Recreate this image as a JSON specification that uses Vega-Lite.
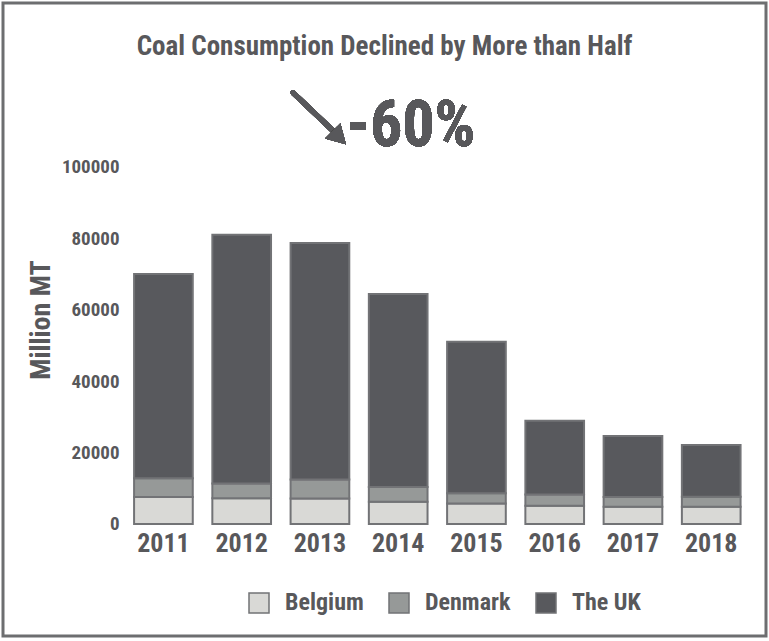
{
  "$schema": "https://vega.github.io/schema/vega-lite/v6.json",
  "width": 763,
  "height": 633,
  "autosize": "none",
  "padding": {"left": 3, "top": 3, "right": 3, "bottom": 5},
  "background": "white",
  "title": {
    "text": "Coal Consumption Declined by More than Half",
    "anchor": "middle",
    "orient": "top",
    "offset": -58,
    "font": "Roboto Condensed, Roboto",
    "fontSize": 27,
    "fontWeight": "bold",
    "color": "#58585b"
  },
  "data": {
    "values": [
      {"year": "2011", "country": "Belgium", "value": 7500},
      {"year": "2011", "country": "Denmark", "value": 5300},
      {"year": "2011", "country": "The UK", "value": 57200},
      {"year": "2012", "country": "Belgium", "value": 7200},
      {"year": "2012", "country": "Denmark", "value": 4100},
      {"year": "2012", "country": "The UK", "value": 69700},
      {"year": "2013", "country": "Belgium", "value": 7100},
      {"year": "2013", "country": "Denmark", "value": 5300},
      {"year": "2013", "country": "The UK", "value": 66300},
      {"year": "2014", "country": "Belgium", "value": 6200},
      {"year": "2014", "country": "Denmark", "value": 4100},
      {"year": "2014", "country": "The UK", "value": 54100},
      {"year": "2015", "country": "Belgium", "value": 5700},
      {"year": "2015", "country": "Denmark", "value": 2900},
      {"year": "2015", "country": "The UK", "value": 42400},
      {"year": "2016", "country": "Belgium", "value": 5100},
      {"year": "2016", "country": "Denmark", "value": 3100},
      {"year": "2016", "country": "The UK", "value": 20700},
      {"year": "2017", "country": "Belgium", "value": 4800},
      {"year": "2017", "country": "Denmark", "value": 2700},
      {"year": "2017", "country": "The UK", "value": 17100},
      {"year": "2018", "country": "Belgium", "value": 4800},
      {"year": "2018", "country": "Denmark", "value": 2800},
      {"year": "2018", "country": "The UK", "value": 14500}
    ]
  },
  "layer": [
    {
      "mark": {"type": "bar", "stroke": "#727376", "strokeWidth": 2},
      "encoding": {
        "x": {
          "field": "year",
          "type": "ordinal",
          "scale": {"paddingInner": 0.25, "paddingOuter": 1.028, "align": 0.8375},
          "axis": {
            "orient": "bottom",
            "offset": -112,
            "title": null,
            "labelAngle": 0,
            "labelFontSize": 26,
            "labelPadding": 6,
            "domain": false,
            "ticks": false
          }
        },
        "y": {
          "field": "value",
          "type": "quantitative",
          "stack": "zero",
          "scale": {"domain": [-31400, 145900], "nice": false, "zero": false},
          "axis": {
            "values": [0, 20000, 40000, 60000, 80000, 100000],
            "format": "d",
            "grid": false,
            "domain": false,
            "ticks": false,
            "offset": -116,
            "labelPadding": 0,
            "labelFontSize": 19,
            "title": "Million MT",
            "titleFontSize": 28,
            "titlePadding": 6
          }
        },
        "order": {"field": "country", "sort": "ascending"},
        "color": {
          "field": "country",
          "type": "nominal",
          "scale": {"domain": ["Belgium", "Denmark", "The UK"], "range": ["#d9d9d6", "#969998", "#58595d"]},
          "legend": {
            "orient": "none",
            "legendX": 244,
            "legendY": 588,
            "direction": "horizontal",
            "title": null,
            "symbolType": "square",
            "symbolSize": 400,
            "symbolStrokeColor": "#727376",
            "symbolStrokeWidth": 1.5,
            "labelFontSize": 24,
            "labelOffset": 14,
            "columnPadding": 22
          }
        }
      }
    },
    {
      "mark": {"type": "rule", "color": "#58585b", "strokeWidth": 5, "strokeCap": "round"},
      "encoding": {
        "x": {"datum": "2013", "type": "ordinal", "bandPosition": 0.04},
        "x2": {"datum": "2013", "bandPosition": 0.73},
        "y": {"datum": 120800, "type": "quantitative"},
        "y2": {"datum": 110000}
      }
    },
    {
      "mark": {"type": "point", "shape": "triangle-up", "filled": true, "color": "#58585b", "opacity": 1, "size": 460, "angle": 135},
      "encoding": {
        "x": {"datum": "2013", "type": "ordinal", "bandPosition": 0.83},
        "y": {"datum": 108200, "type": "quantitative"}
      }
    },
    {
      "mark": {"type": "text", "text": "-60%", "font": "Roboto Condensed, Roboto", "fontSize": 64, "fontWeight": "bold", "color": "#58585b", "baseline": "middle", "align": "center"},
      "encoding": {
        "x": {"datum": "2014", "type": "ordinal", "bandPosition": 0.72},
        "y": {"datum": 111200, "type": "quantitative"}
      }
    }
  ],
  "config": {
    "view": {"stroke": "#6d6e70", "strokeWidth": 3},
    "font": "Roboto Condensed, Roboto",
    "axis": {
      "labelColor": "#58585b",
      "titleColor": "#58585b",
      "labelFont": "Roboto Condensed, Roboto",
      "titleFont": "Roboto Condensed, Roboto",
      "labelFontWeight": "bold",
      "titleFontWeight": "bold"
    },
    "legend": {
      "labelColor": "#58585b",
      "labelFont": "Roboto Condensed, Roboto",
      "labelFontWeight": "bold"
    }
  }
}
